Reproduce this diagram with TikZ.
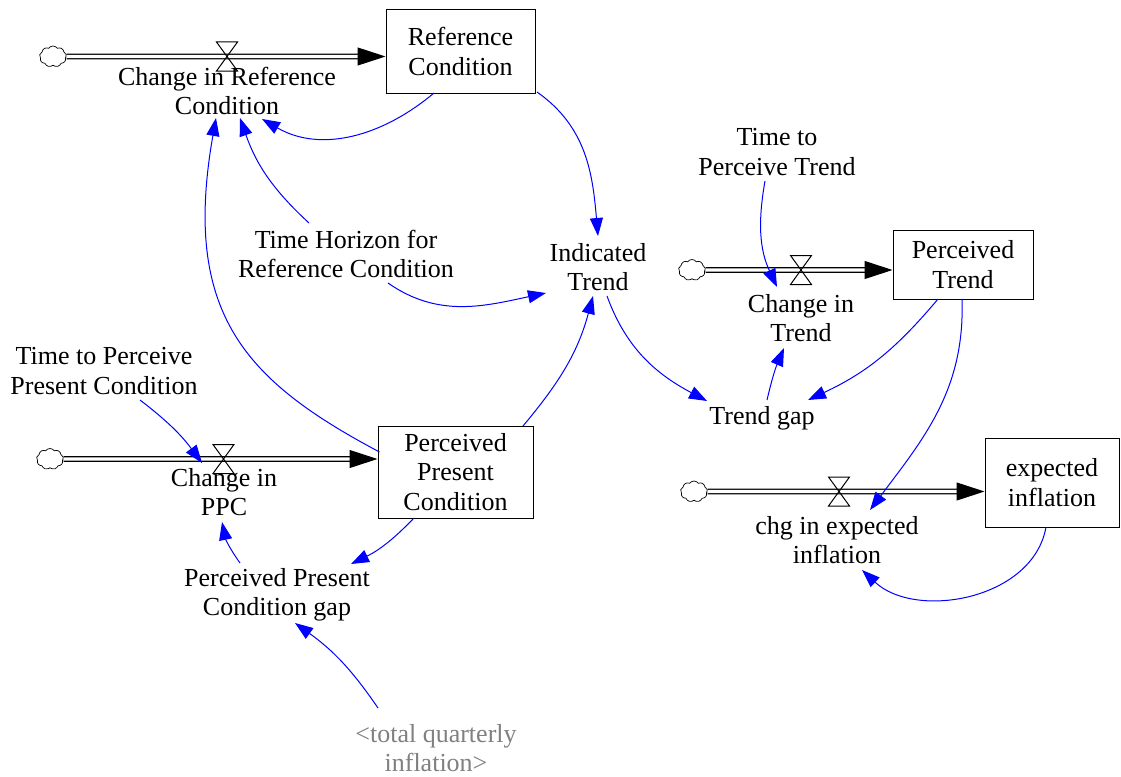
\documentclass[tikz,border=0pt]{standalone}
\usepackage{fontspec}
\setmainfont{Liberation Serif}
\usetikzlibrary{arrows.meta,shapes.symbols}

\definecolor{linkblue}{RGB}{0,0,255}
\definecolor{shadowgray}{RGB}{128,128,128}

\tikzset{
  lbl/.style={align=center, font=\fontsize{26}{29.5}\selectfont, inner sep=1pt},
  stockbox/.style={lbl, draw, line width=1pt},
  link/.style={draw=linkblue, line width=1pt,
    -{Triangle[length=18pt,width=13pt,fill=linkblue]}},
  pipe/.style={draw, double=white, double distance=3.4pt, line width=1.2pt, shorten >=26pt},
  pipetip/.style={line width=1pt, -{Triangle[length=28pt,width=18pt]}},
  source/.style={cloud, cloud puffs=9, cloud puff arc=110, cloud ignores aspect, draw,
    line width=0.7pt, minimum width=27pt, minimum height=21pt, inner sep=0pt, fill=white},
  valve/.pic={\draw[line width=1pt] (-10.5,14.5) -- (10.5,14.5) -- (-10.5,-14.5) -- (10.5,-14.5) -- cycle;}
}

\begin{document}
\begin{tikzpicture}
\useasboundingbox (0,0) rectangle (1121pt,-776pt);
\begin{scope}[x=1pt,y=1pt]
  % stocks
  \node[stockbox, minimum width=149pt, minimum height=83pt] (refbox) at (460.5,-51.5) {Reference\\Condition};
  \node[stockbox, minimum width=140pt, minimum height=69pt] (ptrend) at (963,-264.5) {Perceived\\Trend};
  \node[stockbox, minimum width=155pt, minimum height=92pt] (ppc) at (455.5,-472) {Perceived\\Present\\Condition};
  \node[stockbox, minimum width=134pt, minimum height=89pt] (expinf) at (1052,-482.5) {expected\\inflation};

  % sources
  \node[source] (src1) at (53,-56.5) {};
  \node[source] (src2) at (692,-270) {};
  \node[source] (src3) at (50,-459) {};
  \node[source] (src4) at (694,-491.5) {};

  % valve positions
  \coordinate (v1) at (227,-56.5);
  \coordinate (v2) at (801,-270);
  \coordinate (v3) at (223.5,-459);
  \coordinate (v4) at (839,-491.5);

  % pipe ends at the stocks
  \coordinate (e1) at (refbox.west |- src1);
  \coordinate (e2) at (ptrend.west |- src2);
  \coordinate (e3) at (ppc.west |- src3);
  \coordinate (e4) at (expinf.west |- src4);

  % flows
  \draw[pipe] (src1.east) -- (e1);
  \draw[pipetip] ([xshift=-28pt]e1) -- (e1);
  \draw[pipe] (src2.east) -- (e2);
  \draw[pipetip] ([xshift=-28pt]e2) -- (e2);
  \draw[pipe] (src3.east) -- (e3);
  \draw[pipetip] ([xshift=-28pt]e3) -- (e3);
  \draw[pipe] (src4.east) -- (e4);
  \draw[pipetip] ([xshift=-28pt]e4) -- (e4);
  \pic at (v1) {valve};
  \pic at (v2) {valve};
  \pic at (v3) {valve};
  \pic at (v4) {valve};

  % variables
  \node[lbl] (chgref) at (227,-91) {Change in Reference\\Condition};
  \node[lbl] (horizon) at (346,-254) {Time Horizon for\\Reference Condition};
  \node[lbl] (indtrend) at (598,-267) {Indicated\\Trend};
  \node[lbl] (ttrend) at (777,-152) {Time to\\Perceive Trend};
  \node[lbl] (chgtrend) at (801,-318) {Change in\\Trend};
  \node[lbl] (tgap) at (762,-418) {Trend gap};
  \node[lbl] (tppc) at (104,-371) {Time to Perceive\\Present Condition};
  \node[lbl] (chgppc) at (224,-492) {Change in\\PPC};
  \node[lbl] (ppcgap) at (277,-595) {Perceived Present\\Condition gap};
  \node[lbl, text=shadowgray] (tqi) at (436,-748) {<total quarterly\\inflation>};
  \node[lbl] (chgexp) at (837,-540) {chg in expected\\inflation};

  % causal links
  \draw[link] ([shift={(-26.5,-41.5)}]refbox.center) to[out=220,in=-30]
              ([shift={(35,-28)}]chgref.center);
  \draw[link] ([shift={(76.5,-40.5)}]refbox.center) to[out=-35,in=95]
              ([shift={(0,31)}]indtrend.center);
  \draw[link] ([shift={(-37,31)}]horizon.center) to[bend left=14]
              ([shift={(13,-27)}]chgref.center);
  \draw[link] ([shift={(-76,20)}]ppc.center) to[out=152,in=260,out distance=150pt,in distance=200pt]
              ([shift={(-11,-27)}]chgref.center);
  \draw[link] ([shift={(42,-29)}]horizon.center) to[out=-35,in=192]
              ([shift={(-52,-26)}]indtrend.center);
  \draw[link] ([shift={(67.5,46)}]ppc.center) to[out=50,in=-105]
              ([shift={(-5,-29)}]indtrend.center);
  \draw[link] ([shift={(9,-29)}]indtrend.center) to[out=-70,in=152]
              ([shift={(-55,17)}]tgap.center);
  \draw[link] ([shift={(-12,-29)}]ttrend.center) to[out=-100,in=115]
              ([shift={(-24,31)}]chgtrend.center);
  \draw[link] ([shift={(5,18)}]tgap.center) to[bend left=5]
              ([shift={(-17,-30)}]chgtrend.center);
  \draw[link] ([shift={(-25,-34.5)}]ptrend.center) to[out=230,in=25]
              ([shift={(46,18)}]tgap.center);
  \draw[link] ([shift={(-1,-34.5)}]ptrend.center) to[out=-88,in=53]
              ([shift={(33,30)}]chgexp.center);
  \draw[link] ([shift={(-6,-44.5)}]expinf.center) to[out=-100,in=-43]
              ([shift={(25,-30)}]chgexp.center);
  \draw[link] ([shift={(36,-29)}]tppc.center) to[bend left=8]
              ([shift={(-22,29)}]chgppc.center);
  \draw[link] ([shift={(-41.5,-46)}]ppc.center) to[bend left=10]
              ([shift={(74,31)}]ppcgap.center);
  \draw[link] ([shift={(-37,32)}]ppcgap.center) to[bend left=12]
              ([shift={(-2,-30)}]chgppc.center);
  \draw[link] ([shift={(-58,40)}]tqi.center) to[bend right=10]
              ([shift={(18,-28)}]ppcgap.center);
\end{scope}
\end{tikzpicture}
\end{document}
